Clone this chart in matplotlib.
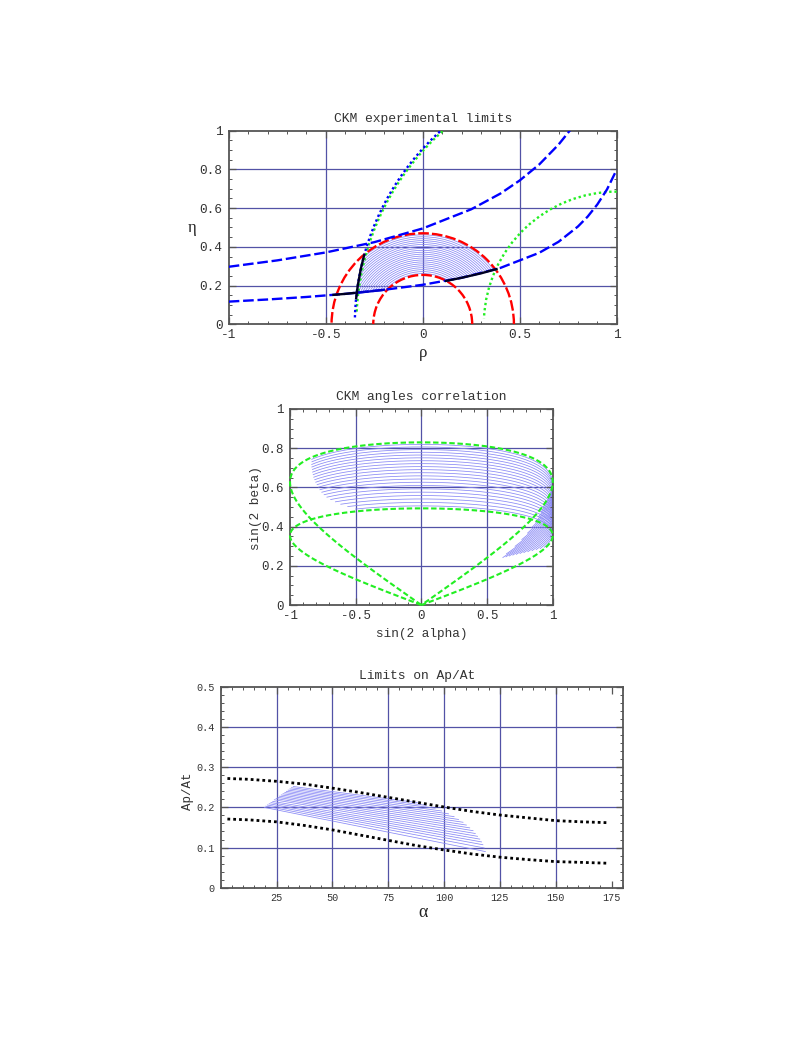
import numpy as np
import matplotlib
matplotlib.use('Agg')
import matplotlib.pyplot as plt
from matplotlib.patches import Arc, Polygon
from matplotlib.ticker import MultipleLocator

# ------------------------------------------------------------------ data
# Panel 1 : CKM experimental limits (rho, eta)
p1_xticks = [-1, -0.5, 0, 0.5, 1]
p1_xticklabels = ['-1', '-0.5', '0', '0.5', '1']
p1_yticks = [0, 0.2, 0.4, 0.6, 0.8, 1]
p1_yticklabels = ['0', '0.2', '0.4', '0.6', '0.8', '1']
p1_gridx = [-0.5, 0, 0.5]
p1_gridy = [0.2, 0.4, 0.6, 0.8]

# blue dashed hyperbolas
rho_lower = [-1.0, -0.8, -0.6, -0.4, -0.2, 0.0, 0.2, 0.4, 0.6, 0.7, 0.8, 0.85, 0.9, 0.95, 1.0]
eta_lower = [0.117, 0.128, 0.141, 0.157, 0.178, 0.204, 0.240, 0.291, 0.369, 0.426, 0.505, 0.556, 0.619, 0.697, 0.799]
rho_upper = [-1.0, -0.75, -0.5, -0.25, 0.0, 0.25, 0.4, 0.5, 0.6, 0.7, 0.76]
eta_upper = [0.297, 0.330, 0.371, 0.424, 0.495, 0.594, 0.675, 0.743, 0.825, 0.928, 1.003]

# red dashed semicircles centred on the origin
red_radii = [0.255, 0.47]
# dotted circles centred at (1, 0): radius, start angle, end angle (deg)
vtd_center = (1.0, 0.0)
green_left = (1.342, 100.0, 177.2)
blue_left = (1.350, 100.0, 178.7)
green_right = (0.685, 90.0, 177.5)

# solid boundary of the allowed region
bnd_a_rho = [-0.46, -0.40, -0.34]
bnd_a_eta = [0.152, 0.157, 0.163]
bnd_b_rho = [-0.34, -0.27, -0.20]
bnd_b_eta = [0.163, 0.170, 0.178]
bnd_c_rho = [0.12, 0.20, 0.30, 0.38]
bnd_c_eta = [0.224, 0.240, 0.263, 0.285]
bnd_d_rho = [-0.343, -0.335, -0.3185, -0.302]
bnd_d_eta = [0.135, 0.200, 0.290, 0.357]

# hatched allowed region: concentric arcs and the outline that bounds them
hatch_radii = [0.262, 0.272, 0.282, 0.292, 0.302, 0.312, 0.322, 0.332, 0.342, 0.352, 0.362,
               0.372, 0.382, 0.392, 0.402, 0.412, 0.422, 0.432, 0.442, 0.452, 0.462]
region_rho = [-0.340, -0.200, -0.100, 0.000, 0.100, 0.200, 0.300, 0.400, 0.500, 0.500,
              -0.209, -0.254, -0.289, -0.316, -0.335, -0.340]
region_eta = [0.163, 0.178, 0.190, 0.204, 0.221, 0.240, 0.263, 0.291, 0.325, 0.600,
              0.600, 0.500, 0.400, 0.300, 0.200, 0.163]

# Panel 2 : CKM angles correlation
p2_xticks = [-1, -0.5, 0, 0.5, 1]
p2_xticklabels = ['-1', '-0.5', '0', '0.5', '1']
p2_yticks = [0, 0.2, 0.4, 0.6, 0.8, 1]
p2_yticklabels = ['0', '0.2', '0.4', '0.6', '0.8', '1']
p2_gridx = [-0.5, 0, 0.5]
p2_gridy = [0.2, 0.4, 0.6, 0.8]

# Panel 3 : Limits on Ap/At
p3_xticks = [25, 50, 75, 100, 125, 150, 175]
p3_xticklabels = ['25', '50', '75', '100', '125', '150', '175']
p3_yticks = [0, 0.1, 0.2, 0.3, 0.4, 0.5]
p3_yticklabels = ['0', '0.1', '0.2', '0.3', '0.4', '0.5']
p3_gridx = [25, 50, 75, 100, 125, 150]
p3_gridy = [0.1, 0.2, 0.3, 0.4]

alpha_up = [3, 12.5, 25, 37.5, 50, 62.5, 75, 87.5, 100, 112.5, 125, 137.5, 150, 162, 173]
ratio_up = [0.272, 0.270, 0.265, 0.258, 0.248, 0.237, 0.225, 0.213, 0.201, 0.190, 0.181, 0.174, 0.167, 0.164, 0.162]
alpha_lo = [3, 12.5, 25, 37.5, 50, 62.5, 75, 87.5, 100, 112.5, 125, 137.5, 150, 162, 173]
ratio_lo = [0.171, 0.169, 0.164, 0.155, 0.144, 0.131, 0.118, 0.105, 0.094, 0.084, 0.076, 0.070, 0.065, 0.063, 0.061]

hatch3_start_alpha = [32.5, 31.7, 31.0, 30.2, 29.4, 28.7, 27.9, 27.1, 26.3, 25.6, 24.8, 24.0, 23.3, 22.5, 21.7, 20.9, 20.2, 19.5]
hatch3_start_ratio = [0.252, 0.249, 0.246, 0.243, 0.240, 0.237, 0.234, 0.231, 0.228, 0.225, 0.222, 0.219, 0.215, 0.212, 0.209, 0.206, 0.203, 0.200]
hatch3_end_alpha = [88, 92, 96, 99, 102, 104.5, 106.5, 108.5, 110, 111.5, 113, 114, 115, 116, 116.8, 117.4, 118, 118.5]
hatch3_end_ratio = [0.212, 0.205, 0.198, 0.191, 0.184, 0.177, 0.170, 0.163, 0.156, 0.149, 0.142, 0.135, 0.128, 0.121, 0.114, 0.107, 0.099, 0.090]

# ------------------------------------------------------------------ style
MONO = ['Liberation Mono', 'DejaVu Sans Mono']
SERIF = ['Liberation Serif', 'DejaVu Serif']
FRAME = '#555555'
TXT = '#333333'
GRID = '#5252a6'
HATCH = '#8888f5'
BLUE = '#0000ff'
RED = '#ff0000'
GREEN = '#22ee22'

fig = plt.figure(figsize=(8.02, 10.38), dpi=100)


def style_axes(ax, xlim, ylim, xt, xtl, yt, ytl, xminor, yminor, fs, gx, gy):
    ax.set_xlim(*xlim)
    ax.set_ylim(*ylim)
    ax.set_xticks(xt, labels=xtl)
    ax.set_yticks(yt, labels=ytl)
    ax.xaxis.set_minor_locator(MultipleLocator(xminor))
    ax.yaxis.set_minor_locator(MultipleLocator(yminor))
    ax.tick_params(which='both', direction='in', top=True, right=True,
                   color=FRAME, labelcolor=TXT)
    ax.tick_params(which='major', length=5, width=0.9, labelsize=fs)
    ax.tick_params(axis='x', which='major', pad=3.5)
    ax.tick_params(axis='y', which='major', pad=4.5)
    ax.tick_params(which='minor', length=2.5, width=0.7)
    for lab in ax.get_xticklabels() + ax.get_yticklabels():
        lab.set_fontfamily(MONO)
    for s in ax.spines.values():
        s.set_color(FRAME)
        s.set_linewidth(1.3)
    for x in gx:
        ax.axvline(x, color=GRID, lw=0.9, zorder=0.5)
    for y in gy:
        ax.axhline(y, color=GRID, lw=0.9, zorder=0.5)


# ------------------------------------------------------------------ panel 1
ax1 = fig.add_axes([0.2852, 0.6876, 0.4838, 0.1865])
style_axes(ax1, (-1, 1), (0, 1), p1_xticks, p1_xticklabels, p1_yticks, p1_yticklabels,
           0.1, 0.05, 9.2, p1_gridx, p1_gridy)

clip = Polygon(np.column_stack([region_rho, region_eta]), closed=True, transform=ax1.transData)
for r in hatch_radii:
    a = Arc((0, 0), 2 * r, 2 * r, theta1=0, theta2=180, color=HATCH, lw=0.55, zorder=1)
    ax1.add_patch(a)
    a.set_clip_path(clip)

for r in red_radii:
    ax1.add_patch(Arc((0, 0), 2 * r, 2 * r, theta1=0, theta2=180, color=RED, lw=1.7,
                      linestyle=(0, (4.5, 1.3)), zorder=3))

for (r, t1, t2), col, off in [(green_left, GREEN, 0), (blue_left, BLUE, 1.0), (green_right, GREEN, 0)]:
    ax1.add_patch(Arc(vtd_center, 2 * r, 2 * r, theta1=t1, theta2=t2, color=col, lw=1.7,
                      linestyle=(off, (1, 1.2)), zorder=3))

ax1.plot(rho_lower, eta_lower, color=BLUE, lw=1.7, ls=(0, (4.5, 1.6)), zorder=4)
ax1.plot(rho_upper, eta_upper, color=BLUE, lw=1.7, ls=(0, (4.5, 1.6)), zorder=4)

ax1.plot(bnd_a_rho, bnd_a_eta, color='#000022', lw=1.7, zorder=5)
ax1.plot(bnd_b_rho, bnd_b_eta, color='#0000cc', lw=1.7, zorder=5)
ax1.plot(bnd_c_rho, bnd_c_eta, color='#000022', lw=1.7, zorder=5)
ax1.plot(bnd_d_rho, bnd_d_eta, color='#000022', lw=1.7, zorder=5)

fig.text(0.527, 0.8854, 'CKM experimental limits', ha='center', va='center',
         family=MONO, fontsize=9.4, color=TXT)
fig.text(0.527, 0.6604, 'ρ', ha='center', va='center', family=SERIF, fontsize=12, color='#222222')
fig.text(0.239, 0.780, 'η', ha='center', va='center', family=SERIF, fontsize=12, color='#222222')

# ------------------------------------------------------------------ panel 2
ax2 = fig.add_axes([0.3616, 0.4171, 0.3276, 0.1889])
style_axes(ax2, (-1, 1), (0, 1), p2_xticks, p2_xticklabels, p2_yticks, p2_yticklabels,
           0.1, 0.05, 9.0, p2_gridx, p2_gridy)


def ckm_angles(rho, eta):
    """sin(2 alpha), sin(2 beta) of the unitarity triangle with apex (rho, eta)."""
    beta = np.arctan2(eta, 1 - rho)
    gamma = np.arctan2(eta, rho)
    alpha = np.pi - beta - gamma
    return np.sin(2 * alpha), np.sin(2 * beta)


theta = np.linspace(0.0005, np.pi - 0.0005, 1500)
# image of the hatched region of panel 1
for r in hatch_radii:
    rr = r * np.cos(theta)
    ee = r * np.sin(theta)
    inside = (ee > np.interp(rr, rho_lower, eta_lower)) & \
             ((rr - vtd_center[0]) ** 2 + ee ** 2 < blue_left[0] ** 2)
    sx, sy = ckm_angles(rr, ee)
    sx = np.where(inside, sx, np.nan)
    sy = np.where(inside, sy, np.nan)
    ax2.plot(sx, sy, color=HATCH, lw=0.55, zorder=1)
# image of the two red circles
for r in red_radii:
    sx, sy = ckm_angles(r * np.cos(theta), r * np.sin(theta))
    ax2.plot(sx, sy, color=GREEN, lw=1.5, ls=(0, (2.6, 1.3)), zorder=3, clip_on=False)

fig.text(0.5253, 0.6175, 'CKM angles correlation', ha='center', va='center',
         family=MONO, fontsize=9.4, color=TXT)
fig.text(0.5258, 0.3892, 'sin(2 alpha)', ha='center', va='center',
         family=MONO, fontsize=9.2, color=TXT)
fig.text(0.3192, 0.5103, 'sin(2 beta)', ha='center', va='center', rotation=90,
         family=MONO, fontsize=9.2, color=TXT)

# ------------------------------------------------------------------ panel 3
ax3 = fig.add_axes([0.2752, 0.1448, 0.5012, 0.1934])
style_axes(ax3, (0, 180), (0, 0.5), p3_xticks, p3_xticklabels, p3_yticks, p3_yticklabels,
           5, 0.02, 7.3, p3_gridx, p3_gridy)

for sa, sr, ea, er in zip(hatch3_start_alpha, hatch3_start_ratio, hatch3_end_alpha, hatch3_end_ratio):
    ax3.plot([sa, ea], [sr, er], color=HATCH, lw=0.55, zorder=1)

ax3.plot(alpha_up, ratio_up, color='black', lw=2.0, ls=(0, (1, 1.1)), zorder=3)
ax3.plot(alpha_lo, ratio_lo, color='black', lw=2.0, ls=(0, (1, 1.1)), zorder=3)

fig.text(0.5204, 0.3487, 'Limits on Ap/At', ha='center', va='center',
         family=MONO, fontsize=9.4, color=TXT)
fig.text(0.527, 0.1207, 'α', ha='center', va='center', family=SERIF, fontsize=13, color='#222222')
fig.text(0.2348, 0.2373, 'Ap/At', ha='center', va='center', rotation=90,
         family=MONO, fontsize=9.0, color=TXT)

fig.savefig('out.png', dpi=100)
